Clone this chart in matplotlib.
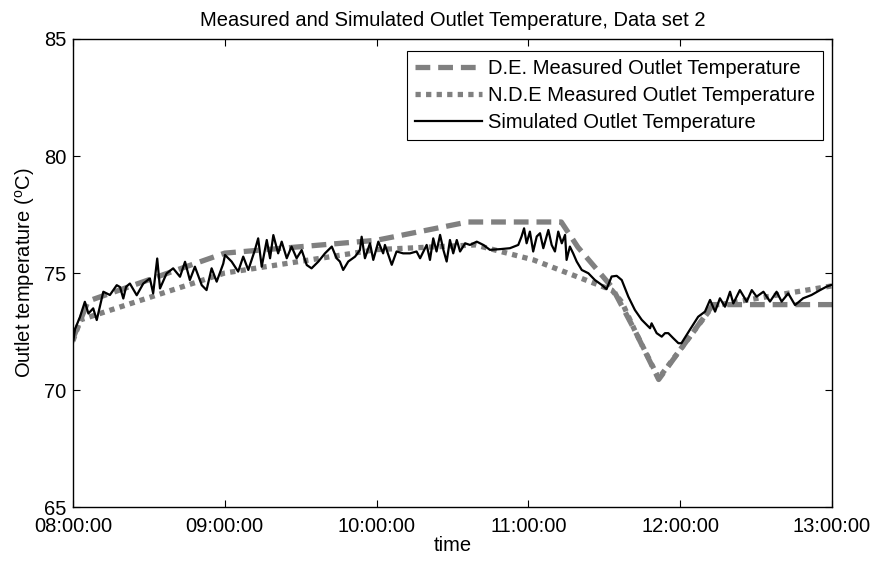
import matplotlib
matplotlib.use("Agg")
import matplotlib.pyplot as plt

plt.rcParams['font.family'] = ['Liberation Sans', 'DejaVu Sans']
plt.rcParams['mathtext.fontset'] = 'custom'
plt.rcParams['mathtext.rm'] = 'Liberation Sans'

# minutes after 08:00
de_t = [0, 6, 60, 120, 156, 193, 199.6, 213, 222, 231.5, 253, 300]
de_v = [72.2, 73.8, 75.85, 76.4, 77.18, 77.18, 76.1, 74.4, 72.56, 70.45, 73.65, 73.65]

nde_t = [0, 3, 60, 120, 159, 182, 213, 217, 222, 231.5, 253, 300]
nde_v = [72.1, 73.0, 75.0, 76.0, 76.2, 75.56, 74.27, 73.75, 72.56, 70.5, 73.6, 74.45]

sim_t = [0, 0.8, 2.8, 4.7, 6.1, 8.0, 9.4, 12.0, 14.6, 17.3, 18.6, 19.9, 21.0, 22.5,
         25.2, 27.8, 30.4, 31.7, 33.3, 34.4, 37.0, 39.6, 42.3, 44.3, 46.2, 48.2,
         50.9, 52.8, 54.8, 56.8, 59.4, 60.1, 62.7, 65.3, 67.3, 69.3, 71.9, 73.2,
         74.6, 76.6, 77.9, 79.2, 81.1, 82.5, 84.5, 86.4, 88.4, 90.4, 92.4, 94.3,
         97.0, 99.6, 102.3, 104.2, 105.5, 106.8, 108.8, 111.5, 113.4, 114.1, 115.4,
         117.4, 118.7, 120.7, 122.6, 123.3, 126.0, 127.9, 130.5, 133.2, 135.8,
         137.2, 139.8, 141.1, 142.4, 143.7, 145.1, 146.4, 147.7, 149.0, 150.3,
         151.7, 153.0, 155.0, 156.9, 159.6, 162.2, 164.8, 168.8, 172.7, 176.0,
         177.3, 178.3, 179.3, 180.6, 181.9, 183.3, 184.6, 185.9, 187.9, 189.2,
         190.5, 191.8, 193.2, 194.5, 195.1, 196.4, 197.7, 199.1, 201.1, 203.7,
         206.3, 209.0, 210.9, 212.9, 214.9, 216.9, 219.5, 222.1, 224.8, 228.1,
         228.7, 230.7, 232.7, 234.0, 235.3, 237.3, 239.3, 240.5, 243.8, 247.1,
         249.8, 251.8, 253.8, 255.7, 257.7, 259.7, 261.0, 263.6, 266.3, 268.3,
         270.2, 272.9, 275.5, 278.1, 280.1, 282.7, 285.4, 288.6, 291.9, 295.3,
         297.9, 300]
sim_v = [72.0, 72.6, 73.13, 73.77, 73.27, 73.49, 72.99, 74.2, 74.06, 74.48, 74.4, 73.91, 74.41, 74.55,
         74.05, 74.55, 74.77, 74.13, 75.62, 74.34, 74.98, 75.2, 74.84, 75.48, 74.7, 75.27,
         74.48, 74.27, 75.2, 74.63, 75.4, 75.77, 75.49, 75.06, 75.7, 75.13, 75.98, 76.48,
         75.27, 76.41, 75.63, 76.62, 75.84, 76.34, 75.63, 76.13, 75.63, 75.98, 75.34, 75.2,
         75.49, 75.84, 76.13, 75.63, 75.49, 75.13, 75.49, 75.7, 75.98, 76.55, 75.63,
         76.27, 75.56, 76.34, 75.84, 76.2, 75.35, 75.92, 75.84, 75.84, 75.92,
         75.63, 76.2, 75.56, 76.48, 75.92, 76.63, 75.99, 75.49, 76.41, 75.84,
         76.41, 75.92, 76.27, 76.2, 76.34, 76.2, 75.99, 76.02, 76.06, 76.2,
         76.56, 76.91, 76.27, 76.77, 75.92, 76.56, 76.7, 76.06, 76.84, 76.2,
         75.92, 76.77, 76.27, 76.63, 75.56, 76.13, 75.84, 75.49, 75.13, 74.99,
         74.7, 74.49, 74.31, 74.85, 74.88, 74.7, 73.99, 73.42, 73.0, 72.64,
         72.85, 72.43, 72.28, 72.43, 72.43, 72.21, 72.0, 72.0, 72.57, 73.13,
         73.35, 73.85, 73.35, 73.92, 73.56, 74.2, 73.7, 74.27, 73.78, 74.27,
         73.99, 74.2, 73.78, 74.2, 73.78, 74.13, 73.63, 73.92, 74.06, 74.27,
         74.42, 74.5]

tick_pos = [0, 60, 120, 180, 240, 300]
tick_lbl = ['08:00:00', '09:00:00', '10:00:00', '11:00:00', '12:00:00', '13:00:00']

fs = 14.5

fig = plt.figure(figsize=(8.78, 5.66), dpi=100)
ax = fig.add_axes([0.0831, 0.1042, 0.8645, 0.8269])

gray = '#808080'
ax.plot(de_t, de_v, color=gray, lw=3.8, dashes=(2.8, 1.5), dash_capstyle='butt',
        label='D.E. Measured Outlet Temperature')
ax.plot(nde_t, nde_v, color=gray, lw=3.8, dashes=(1, 1), dash_capstyle='butt',
        label='N.D.E Measured Outlet Temperature')
ax.plot(sim_t, sim_v, color='k', lw=1.6, label='Simulated Outlet Temperature')

ax.set_xlim(0, 300)
ax.set_ylim(65, 85)
ax.set_xticks(tick_pos)
ax.set_xticklabels(tick_lbl)
ax.set_yticks([65, 70, 75, 80, 85])
ax.tick_params(direction='in', top=True, right=True, length=5, width=0.8,
               labelsize=fs)
ax.tick_params(axis='x', pad=7)
ax.tick_params(axis='y', pad=5)
for s in ax.spines.values():
    s.set_linewidth(1.0)

ax.set_title('Measured and Simulated Outlet Temperature, Data set 2', fontsize=fs, pad=9)
ax.set_xlabel('time', fontsize=fs, labelpad=0)
ax.set_ylabel(r'Outlet temperature ($^{\mathrm{o}}$C)', fontsize=fs, labelpad=5)

leg = ax.legend(loc='upper right', bbox_to_anchor=(0.988, 0.974), borderaxespad=0,
                fontsize=fs, fancybox=False, framealpha=1, edgecolor='k',
                handlelength=3.3, handletextpad=0.3, labelspacing=0.4, borderpad=0.4)
leg.get_frame().set_linewidth(0.8)

fig.savefig('out.png', dpi=100)
